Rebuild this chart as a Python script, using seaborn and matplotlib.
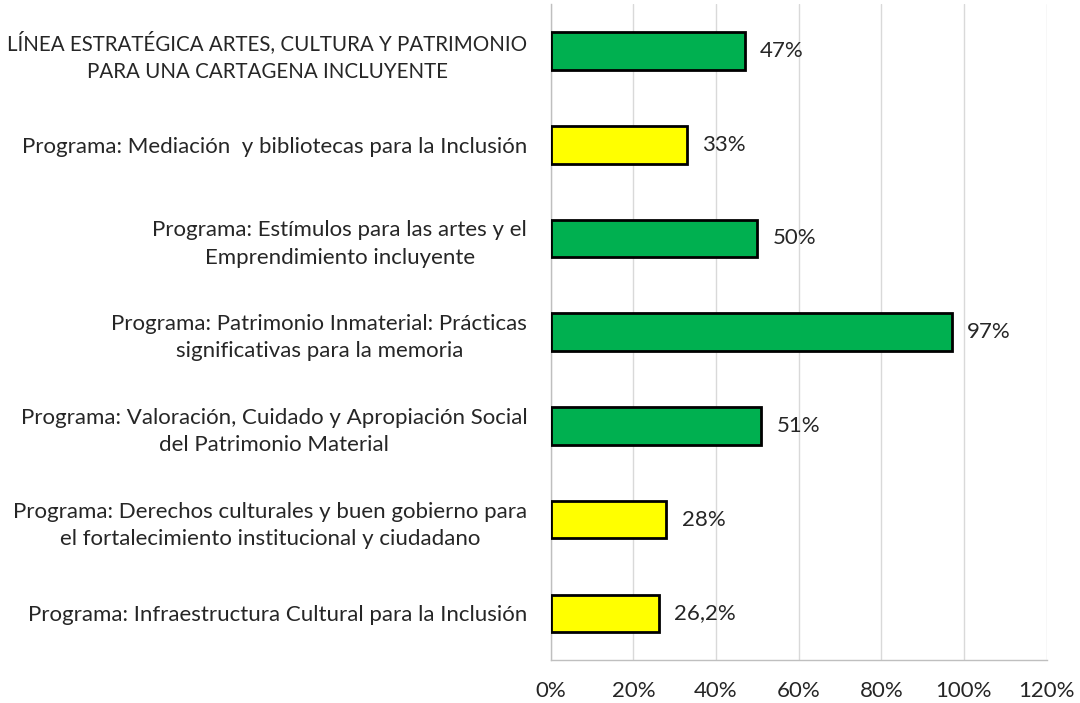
import matplotlib
matplotlib.use("Agg")
import matplotlib.pyplot as plt
import seaborn as sns
import pandas as pd
from matplotlib.ticker import PercentFormatter

# Datos
categorias = [
    "LÍNEA ESTRATÉGICA ARTES, CULTURA Y PATRIMONIO\nPARA UNA CARTAGENA INCLUYENTE",
    "Programa: Mediación  y bibliotecas para la Inclusión",
    "Programa: Estímulos para las artes y el\nEmprendimiento incluyente",
    "Programa: Patrimonio Inmaterial: Prácticas\nsignificativas para la memoria",
    "Programa: Valoración, Cuidado y Apropiación Social\ndel Patrimonio Material",
    "Programa: Derechos culturales y buen gobierno para\nel fortalecimiento institucional y ciudadano",
    "Programa: Infraestructura Cultural para la Inclusión",
]
valores = [47, 33, 50, 97, 51, 28, 26.2]
etiquetas = ["47%", "33%", "50%", "97%", "51%", "28%", "26,2%"]
estado = ["verde", "amarillo", "verde", "verde", "verde", "amarillo", "amarillo"]

colores = {"verde": "#00B050", "amarillo": "#FFFF00"}

df = pd.DataFrame({"categoria": categorias, "valor": valores, "estado": estado})

sns.set_style("white")
plt.rcParams["font.family"] = ["Lato", "DejaVu Sans"]

fig = plt.figure(figsize=(10.8, 7.03), dpi=100)
ax = fig.add_axes([0.510, 0.061, 0.459, 0.933])

sns.barplot(data=df, y="categoria", x="valor", hue="estado", palette=colores,
            dodge=False, legend=False, width=0.4, edgecolor="black", linewidth=2,
            saturation=1, ax=ax, zorder=3)

ax.set_xlim(0, 120)
ax.set_ylim(6.5, -0.5)
ax.set_xticks(range(0, 121, 20))
ax.xaxis.set_major_formatter(PercentFormatter(decimals=0))
ax.grid(axis="x", color="#D9D9D9", linewidth=1, zorder=0)
ax.set_xlabel("")
ax.set_ylabel("")

for s in ["top", "right"]:
    ax.spines[s].set_visible(False)
for s in ["left", "bottom"]:
    ax.spines[s].set_color("#BFBFBF")
    ax.spines[s].set_linewidth(1)

ax.tick_params(axis="both", length=0, colors="#262626", labelsize=16)
ax.tick_params(axis="x", pad=15)
ax.tick_params(axis="y", pad=17)
for lbl in ax.get_yticklabels():
    lbl.set_multialignment("center")
    lbl.set_linespacing(1.45)
# la línea estratégica va en mayúsculas, algo más pequeña
ax.get_yticklabels()[0].set_fontsize(14.8)

for i, (v, t) in enumerate(zip(valores, etiquetas)):
    ax.annotate(t, (v, i), xytext=(11, 0), textcoords="offset points",
                va="center", ha="left", fontsize=16, color="#262626")

fig.savefig("out.png", dpi=100)
